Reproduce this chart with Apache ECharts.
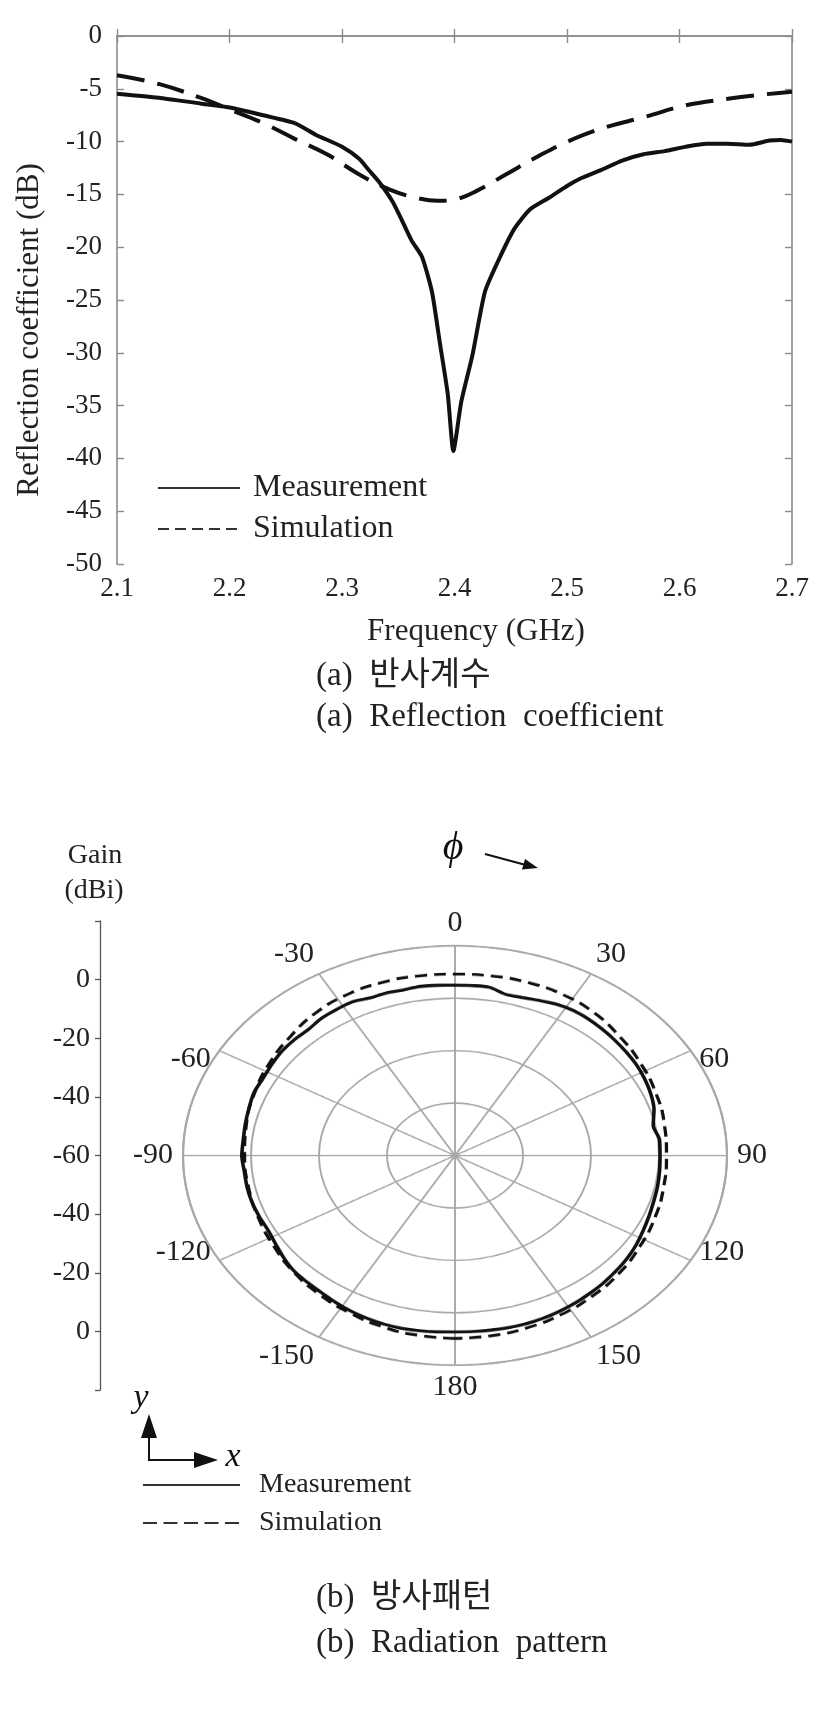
<!DOCTYPE html>
<html><head><meta charset="utf-8">
<script src="https://cdn.jsdelivr.net/npm/echarts/dist/echarts.min.js"></script>
<style>
html,body{margin:0;padding:0;background:#fff}
#wrap{position:relative;width:827px;height:1709px;overflow:hidden;background:#fff}
#ca{position:absolute;left:0;top:0;width:827px;height:1709px}
#cb{position:absolute;left:0;top:760px;width:827px;height:1231px;transform:scaleY(0.771);transform-origin:0 0}
#cc{position:absolute;left:0;top:760px;width:827px;height:1101px;transform:scaleY(0.862);transform-origin:0 0}
</style>
</head><body><div id="wrap"><div id="ca"></div><div id="cb"></div><div id="cc"></div></div>
<script>
// ---------- data: (a) reflection coefficient ----------
const measFreq = [2.100, 2.137, 2.174, 2.200, 2.230, 2.258, 2.277, 2.300, 2.315, 2.324, 2.333, 2.345, 2.352, 2.362, 2.371, 2.380, 2.387, 2.394, 2.399, 2.406, 2.416, 2.427, 2.439, 2.453, 2.467, 2.484, 2.500, 2.512, 2.530, 2.549, 2.568, 2.587, 2.605, 2.624, 2.643, 2.662, 2.680, 2.690, 2.700];
const measDb = [-5.46, -5.84, -6.39, -6.77, -7.51, -8.25, -9.37, -10.48, -11.60, -12.71, -13.83, -15.69, -17.17, -19.40, -20.89, -24.24, -29.07, -33.90, -39.29, -34.65, -30.19, -24.24, -21.26, -18.29, -16.43, -15.32, -14.20, -13.50, -12.70, -11.80, -11.20, -10.90, -10.50, -10.20, -10.20, -10.30, -9.90, -9.85, -10.00];
const simFreq = [2.100, 2.137, 2.174, 2.200, 2.230, 2.258, 2.287, 2.315, 2.343, 2.366, 2.385, 2.399, 2.418, 2.446, 2.474, 2.502, 2.535, 2.568, 2.605, 2.643, 2.671, 2.700];
const simDb = [-3.72, -4.54, -5.84, -6.95, -8.25, -9.74, -11.23, -13.09, -14.57, -15.32, -15.61, -15.50, -14.76, -13.09, -11.41, -9.93, -8.62, -7.70, -6.58, -5.95, -5.58, -5.28];

// ---------- data: (b) radiation pattern (phi in deg, gain in dBi) ----------
const measPhi = [-180,-175,-170,-165,-160,-155,-150,-145,-140,-135,-130,-125,-120,-115,-110,-105,-100,-95,-90,-85,-80,-75,-70,-65,-60,-55,-50,-45,-40,-35,-30,-25,-20,-15,-10,-5,0,5,10,15,20,25,30,35,40,45,50,55,60,65,70,75,80,85,90,95,100,105,110,115,120,125,130,135,140,145,150,155,160,165,170,175,180];
const measGain = [0.2,0.4,0.7,1.0,1.2,1.3,1.3,1.2,1.1,1.3,1.6,1.3,0.8,0.6,1.2,1.8,2.1,2.2,2.7,2.5,2.6,2.7,2.9,2.3,2.2,2.1,1.6,0.9,1.1,0.8,0.5,-0.7,-1.0,-1.5,-1.4,-1.7,-1.9,-1.8,-1.7,-3.0,-2.6,-1.6,-0.4,0.5,0.9,1.1,1.3,1.5,1.7,1.6,1.3,0.6,-0.8,0.4,0.3,0.4,0.5,0.5,0.7,1.0,1.4,1.6,1.6,1.6,1.5,1.5,1.4,1.3,1.1,0.8,0.5,0.3,0.2];
const simPhi = [-180,-170,-160,-150,-140,-130,-120,-110,-100,-90,-80,-70,-60,-50,-40,-30,-20,-10,0,10,20,30,40,50,60,70,80,90,100,110,120,130,140,150,160,170,180];
const simGain = [2.4,2.3,2.2,2.0,1.9,1.9,1.6,1.6,1.7,1.9,2.3,2.7,3.0,3.2,3.6,3.4,2.8,2.2,1.9,2.2,2.8,3.4,3.6,3.2,3.0,2.8,2.5,2.2,2.3,2.5,2.6,2.8,2.7,2.6,2.5,2.4,2.4];

// ---------- tick labels ----------
const angleTicks = [-150,-120,-90,-60,-30,0,30,60,90,120,150,180];
const angleTickLabels = ['-150','-120','-90','-60','-30','0','30','60','90','120','150','180'];
const gainTickLabels = ['', '0', '-20', '-40', '-60', '-40', '-20', '0', ''];

const SERIF = "'Liberation Serif','Times New Roman',serif";
const KFONT = "'Liberation Serif','Noto Sans CJK KR',sans-serif";
const TXT = '#222';
const FRAME = '#8c8c8c';
const GRIDC = '#a8a8a8';

// polar layout: grid ring drawn in instance B (squash SQ_GRID), pattern in instance C (squash SQ_PAT)
const B_TOP = 760, PCX = 455, PR = 272, PCY = 1155.5;
const SQ_GRID = 0.771, SQ_PAT = 0.862;
const PCY_GRID = (PCY - B_TOP) / SQ_GRID;
const PCY_PAT = (PCY - B_TOP) / SQ_PAT;

// angle tick labels placed around the squashed outer ring
const angleLabelGraphics = angleTicks.map((t, i) => {
  const a = t * Math.PI / 180, s = Math.sin(a), c = Math.cos(a);
  const ry = Math.abs(c) > 0.7 ? 232 : 193;
  return {type: 'text', x: PCX + 282 * s, y: PCY - ry * c,
    style: {text: angleTickLabels[i], font: '30px ' + SERIF, fill: TXT,
      textAlign: Math.abs(s) < 0.3 ? 'center' : (s > 0 ? 'left' : 'right'), textVerticalAlign: 'middle'}};
});

// ================= instance A: chart (a), captions, gain scale, legends =================
const chartA = echarts.init(document.getElementById('ca'), null, {renderer: 'canvas', width: 827, height: 1709});
const frameAxisLine = {show: true, lineStyle: {color: FRAME, width: 1.6}};
const frameTick = {show: true, inside: true, length: 7, lineStyle: {color: FRAME, width: 1.4}};

chartA.setOption({
  animation: false,
  backgroundColor: '#fff',
  grid: [
    {left: 117, top: 36, width: 675, height: 528},
    {left: 100, top: 921, width: 1, height: 469}
  ],
  xAxis: [
    {gridIndex: 0, type: 'value', min: 2.1, max: 2.7, interval: 0.1, position: 'bottom',
     axisLine: frameAxisLine, axisTick: frameTick, splitLine: {show: false},
     axisLabel: {formatter: v => v.toFixed(1), fontFamily: SERIF, fontSize: 27, color: TXT, margin: 11}},
    {gridIndex: 0, type: 'value', min: 2.1, max: 2.7, interval: 0.1, position: 'top',
     axisLine: frameAxisLine, axisTick: frameTick, axisLabel: {show: false}, splitLine: {show: false}},
    {gridIndex: 1, type: 'value', show: false}
  ],
  yAxis: [
    {gridIndex: 0, type: 'value', min: -50, max: 0, interval: 5, position: 'left',
     axisLine: frameAxisLine, axisTick: frameTick, splitLine: {show: false},
     axisLabel: {fontFamily: SERIF, fontSize: 27, color: TXT, margin: 15}},
    {gridIndex: 0, type: 'value', min: -50, max: 0, interval: 5, position: 'right',
     axisLine: frameAxisLine, axisTick: frameTick, axisLabel: {show: false}, splitLine: {show: false}},
    {gridIndex: 1, type: 'value', min: -80, max: 80, interval: 20, position: 'left',
     axisLine: {show: true, lineStyle: {color: '#555', width: 1.3}},
     axisTick: {show: true, length: 5, lineStyle: {color: '#555', width: 1.3}},
     splitLine: {show: false},
     axisLabel: {formatter: v => gainTickLabels[Math.round((v + 80) / 20)], fontFamily: SERIF, fontSize: 28, color: TXT, margin: 10}}
  ],
  legend: [
    {orient: 'vertical', left: 152, top: 467, itemWidth: 82, itemHeight: 16, itemGap: 9,
     textStyle: {fontFamily: SERIF, fontSize: 32, color: TXT, padding: [0, 0, 0, 8]}, selectedMode: false,
     data: [
       {name: 'Measurement', itemStyle: {opacity: 0}, lineStyle: {color: '#333', width: 2, type: 'solid'}},
       {name: 'Simulation', itemStyle: {opacity: 0}, lineStyle: {color: '#333', width: 2, type: [11, 6]}}
     ]},
    {orient: 'vertical', left: 137, top: 1466, itemWidth: 97, itemHeight: 16, itemGap: 10,
     textStyle: {fontFamily: SERIF, fontSize: 28, color: TXT, padding: [0, 0, 0, 14]}, selectedMode: false,
     data: [
       {name: 'Measurement', itemStyle: {opacity: 0}, lineStyle: {color: '#333', width: 2, type: 'solid'}},
       {name: 'Simulation', itemStyle: {opacity: 0}, lineStyle: {color: '#333', width: 2, type: [14, 6.5]}}
     ]}
  ],
  series: [
    {name: 'Measurement', type: 'line', xAxisIndex: 0, yAxisIndex: 0, symbol: 'none', smooth: 0.2,
     data: measFreq.map((f, i) => [f, measDb[i]]),
     lineStyle: {color: '#111', width: 4}, z: 3},
    {name: 'Simulation', type: 'line', xAxisIndex: 0, yAxisIndex: 0, symbol: 'none', smooth: 0.4,
     data: simFreq.map((f, i) => [f, simDb[i]]),
     lineStyle: {color: '#111', width: 4, type: [28, 13]}, z: 3}
  ],
  graphic: [
    {type: 'text', x: 30, y: 330, rotation: Math.PI / 2,
     style: {text: 'Reflection coefficient (dB)', font: '31px ' + SERIF, fill: TXT, textAlign: 'center', textVerticalAlign: 'middle'}},
    {type: 'text', x: 476, y: 632,
     style: {text: 'Frequency (GHz)', font: '31px ' + SERIF, fill: TXT, textAlign: 'center', textVerticalAlign: 'middle'}},
    {type: 'text', x: 316, y: 676,
     style: {text: '(a)  반사계수', font: '33px ' + KFONT, fill: TXT, textAlign: 'left', textVerticalAlign: 'middle'}},
    {type: 'text', x: 316, y: 717,
     style: {text: '(a)  Reflection  coefficient', font: '33px ' + SERIF, fill: TXT, textAlign: 'left', textVerticalAlign: 'middle'}},
    {type: 'text', x: 316, y: 1598,
     style: {text: '(b)  방사패턴', font: '33px ' + KFONT, fill: TXT, textAlign: 'left', textVerticalAlign: 'middle'}},
    {type: 'text', x: 316, y: 1643,
     style: {text: '(b)  Radiation  pattern', font: '33px ' + SERIF, fill: TXT, textAlign: 'left', textVerticalAlign: 'middle'}},
    {type: 'text', x: 95, y: 856,
     style: {text: 'Gain', font: '28px ' + SERIF, fill: TXT, textAlign: 'center', textVerticalAlign: 'middle'}},
    {type: 'text', x: 94, y: 891,
     style: {text: '(dBi)', font: '28px ' + SERIF, fill: TXT, textAlign: 'center', textVerticalAlign: 'middle'}},
    {type: 'text', x: 453, y: 848,
     style: {text: 'ϕ', font: 'italic 40px ' + SERIF, fill: '#111', textAlign: 'center', textVerticalAlign: 'middle'}},
    {type: 'line', shape: {x1: 485, y1: 854, x2: 524, y2: 864.5}, style: {stroke: '#111', lineWidth: 2}},
    {type: 'polygon', shape: {points: [[538, 868], [522, 869.5], [525, 859]]}, style: {fill: '#111'}},
    {type: 'line', shape: {x1: 149, y1: 1461, x2: 149, y2: 1432}, style: {stroke: '#111', lineWidth: 2}},
    {type: 'polygon', shape: {points: [[149, 1414], [141, 1438], [157, 1438]]}, style: {fill: '#111'}},
    {type: 'line', shape: {x1: 148, y1: 1460, x2: 198, y2: 1460}, style: {stroke: '#111', lineWidth: 2}},
    {type: 'polygon', shape: {points: [[218, 1460], [194, 1452], [194, 1468]]}, style: {fill: '#111'}},
    {type: 'text', x: 141, y: 1398,
     style: {text: 'y', font: 'italic 34px ' + SERIF, fill: '#111', textAlign: 'center', textVerticalAlign: 'middle'}},
    {type: 'text', x: 233, y: 1457,
     style: {text: 'x', font: 'italic 34px ' + SERIF, fill: '#111', textAlign: 'center', textVerticalAlign: 'middle'}}
  ].concat(angleLabelGraphics)
});

// ================= instance B: polar grid (squashed vertically like the figure) =================
const chartB = echarts.init(document.getElementById('cb'), null, {renderer: 'canvas', width: 827, height: 1231});
chartB.setOption({
  animation: false,
  backgroundColor: 'transparent',
  polar: {center: [PCX, PCY_GRID], radius: PR},
  angleAxis: {
    type: 'value', min: -180, max: 180, interval: 30, startAngle: 270, clockwise: true,
    axisLine: {show: true, lineStyle: {color: GRIDC, width: 2.2}},
    axisTick: {show: false},
    splitLine: {show: true, lineStyle: {color: GRIDC, width: 1.9}},
    axisLabel: {show: false}
  },
  radiusAxis: {
    type: 'value', min: -60, max: 20, interval: 20,
    axisLine: {show: false}, axisTick: {show: false}, axisLabel: {show: false},
    splitLine: {show: true, lineStyle: {color: GRIDC, width: 1.9}}
  }
});

// ================= instance C: measured / simulated pattern (scaled to the Gain scale) =================
const chartC = echarts.init(document.getElementById('cc'), null, {renderer: 'canvas', width: 827, height: 1101});
chartC.setOption({
  animation: false,
  backgroundColor: 'transparent',
  polar: {center: [PCX, PCY_PAT], radius: PR},
  angleAxis: {
    type: 'value', min: -180, max: 180, interval: 30, startAngle: 270, clockwise: true,
    axisLine: {show: false}, axisTick: {show: false}, splitLine: {show: false}, axisLabel: {show: false}
  },
  radiusAxis: {
    type: 'value', min: -60, max: 20, interval: 20,
    axisLine: {show: false}, axisTick: {show: false}, axisLabel: {show: false}, splitLine: {show: false}
  },
  series: [
    {name: 'Measurement', type: 'line', coordinateSystem: 'polar', symbol: 'none', smooth: 0.3,
     data: measPhi.map((p, i) => [measGain[i], p]),
     lineStyle: {color: '#111', width: 3.6}, z: 4},
    {name: 'Simulation', type: 'line', coordinateSystem: 'polar', symbol: 'none', smooth: 0.5,
     data: simPhi.map((p, i) => [simGain[i], p]),
     lineStyle: {color: '#111', width: 3.3, type: [12, 7]}, z: 3}
  ]
});
</script>
</body></html>
